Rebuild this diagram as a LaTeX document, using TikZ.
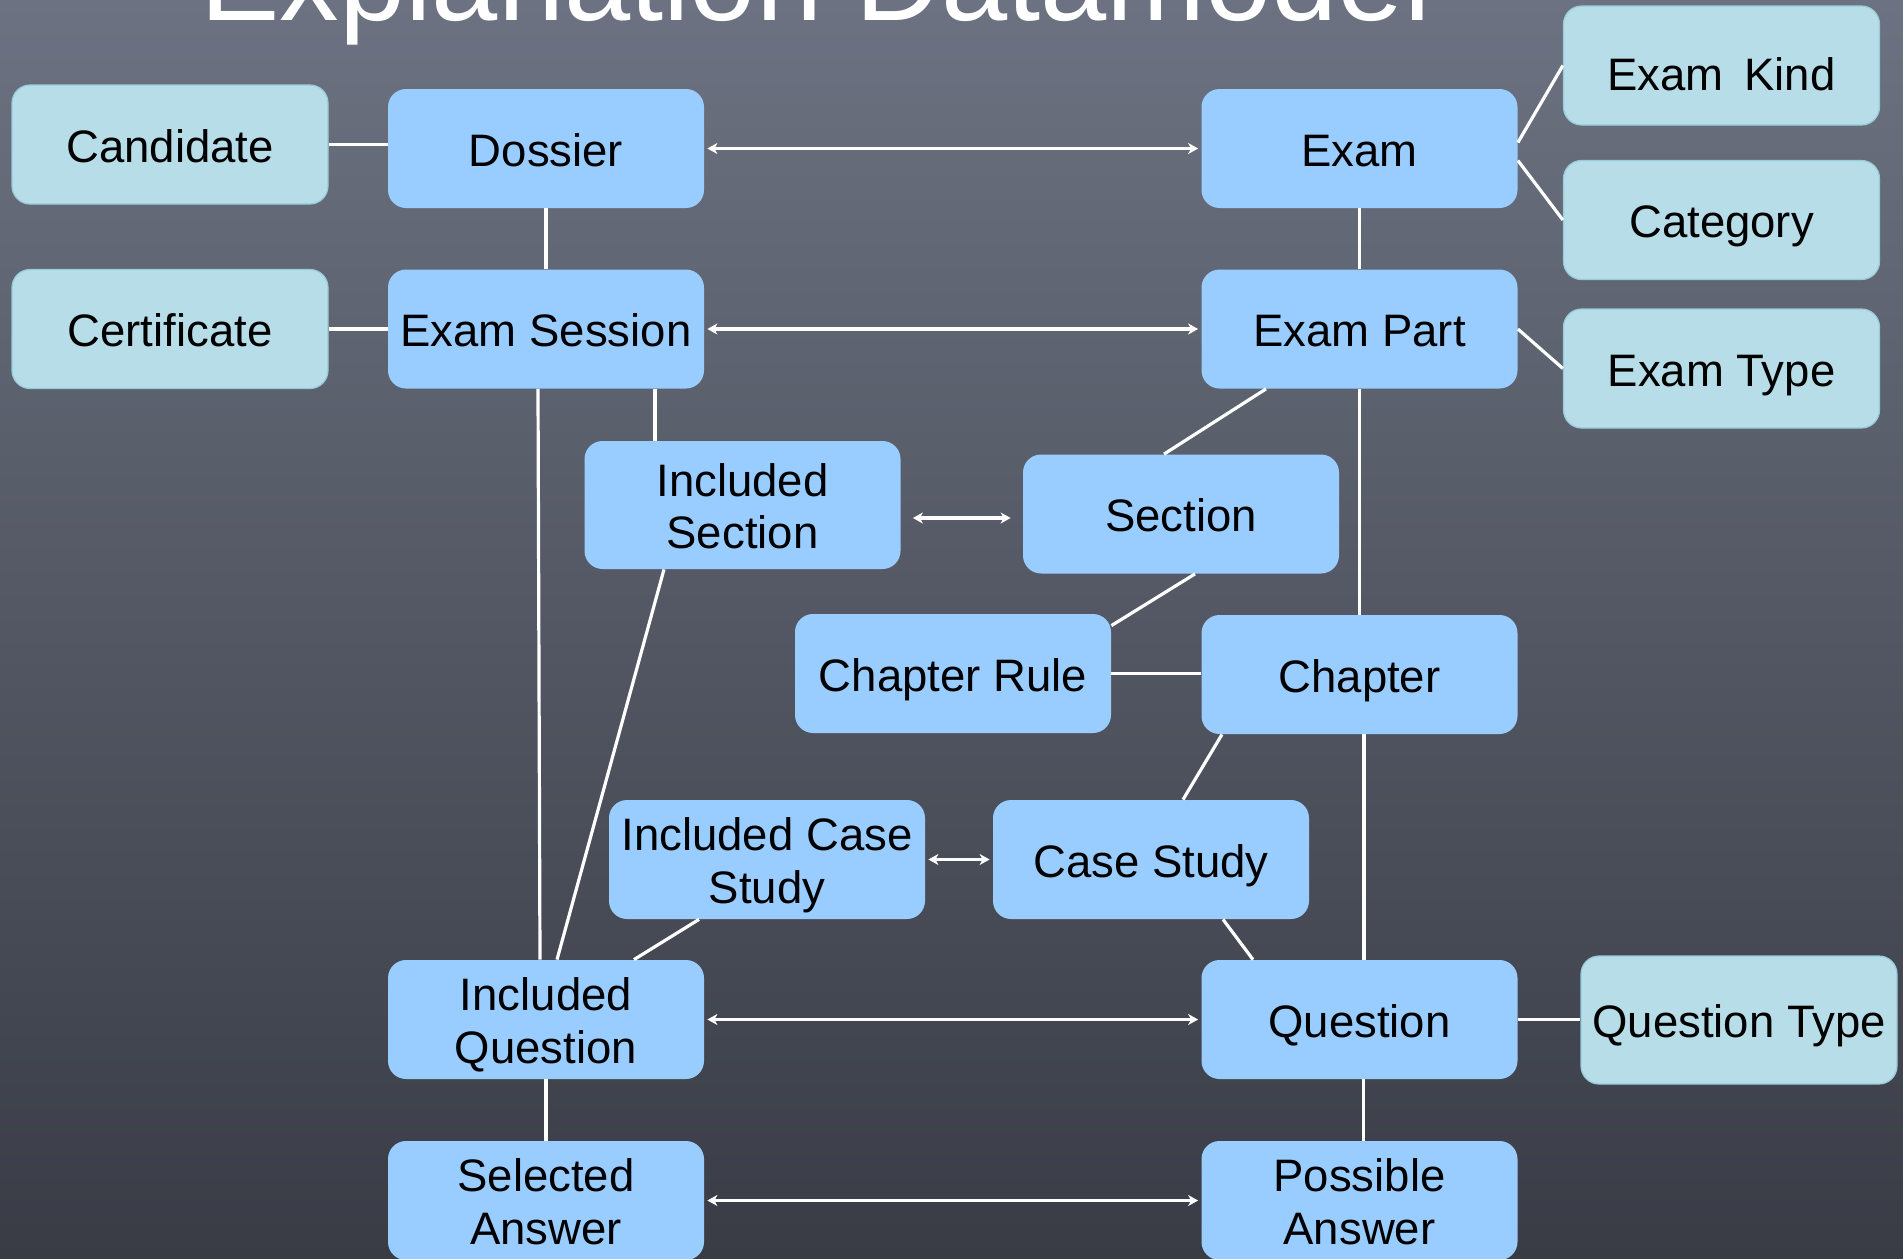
\documentclass[tikz,border=0pt]{standalone}
\usepackage{fontspec}
\setmainfont{Liberation Sans}
\usetikzlibrary{arrows.meta}
\definecolor{boardTop}{HTML}{6C7281}
\definecolor{boardMid}{HTML}{545966}
\definecolor{boardBottom}{HTML}{393C45}
\definecolor{entityBlue}{HTML}{99CCFF}
\definecolor{lookupCyan}{HTML}{B6DDE8}
\definecolor{lookupEdge}{HTML}{98CAD8}
\newcommand{\boxStrut}{\rule[-5pt]{0pt}{27.5pt}}
\tikzstyle{boxEntity} = [rectangle, rounded corners=9pt, minimum width=158pt, minimum height=59.5pt, inner sep=0pt, align=center, text=black, fill=entityBlue, font=\fontsize{22.75pt}{26.3pt}\selectfont, execute at begin node=\boxStrut, execute at end node=\boxStrut]
\tikzstyle{boxLookup} = [boxEntity, fill=lookupCyan, draw=lookupEdge, line width=0.6pt]
\tikzstyle{link} = [draw=white, line width=1.6pt]
\tikzstyle{arrow} = [link, {Stealth[length=5pt, width=5.5pt, inset=1.5pt]}-{Stealth[length=5pt, width=5.5pt, inset=1.5pt]}, shorten <=1.5pt, shorten >=1.5pt]

\begin{document}
\begin{tikzpicture}[x=0.5pt, y=-0.5pt]

\shade [top color=boardTop, middle color=boardMid, bottom color=boardBottom] (0,0) rectangle (1903,1259);
\useasboundingbox (0,0) rectangle (1903,1259);

\node (title) [anchor=base west, inner sep=0pt, text=white, font=\fontsize{59.5pt}{60pt}\selectfont] at (200,20) {Explanation Datamodel};

\node (candidate) [boxLookup] at (170,144.5) {Candidate};
\node (dossier) [boxEntity] at (546,148.5) {Dossier};
\node (exam) [boxEntity] at (1359.5,148.5) {Exam};
\node (examkind) [boxLookup] at (1721.5,65.5) {\raisebox{-3.5pt}{Exam\hspace{0.45em}Kind}};
\node (category) [boxLookup] at (1721.5,220) {Category};
\node (examtype) [boxLookup] at (1721.5,368.5) {Exam Type};

\node (certificate) [boxLookup] at (170,329) {Certificate};
\node (examsession) [boxEntity] at (546,329) {Exam Session};
\node (exampart) [boxEntity] at (1359.5,329) {Exam Part};

\node (incsection) [boxEntity, minimum height=64pt] at (742.5,505) {\boxStrut Included\\Section};
\node (section) [boxEntity] at (1181,514) {Section};

\node (chaprule) [boxEntity] at (953,673.5) {Chapter Rule};
\node (chapter) [boxEntity] at (1359.5,674.5) {Chapter};

\node (inccase) [boxEntity] at (767,859.5) {\boxStrut Included Case\\Study};
\node (casestudy) [boxEntity] at (1151,859.5) {Case Study};

\node (incquestion) [boxEntity] at (546,1019.5) {\boxStrut Included\\Question};
\node (question) [boxEntity] at (1359.5,1019.5) {Question};
\node (questiontype) [boxLookup, minimum height=64pt] at (1739,1020) {Question Type};

\node (selanswer) [boxEntity] at (546,1200.5) {\boxStrut Selected\\Answer};
\node (posanswer) [boxEntity] at (1359.5,1200.5) {\boxStrut Possible\\Answer};

\draw [link] (candidate.east) -- (candidate.east -| dossier.west);
\draw [arrow] (dossier.east) -- (exam.west);
\draw [link] (dossier.south) -- (examsession.north);
\draw [link] (exam.south) -- (exampart.north);
\draw [link] ([yshift=3pt]exam.east) -- (examkind.west);
\draw [link] ([yshift=-6pt]exam.east) -- (category.west);
\draw [link] (exampart.east) -- (examtype.west);

\draw [link] (certificate.east) -- (examsession.west);
\draw [arrow] (examsession.east) -- (exampart.west);
\draw [link] ([xshift=-4pt]examsession.south) -- ([xshift=-3pt]incquestion.north);
\draw [link] ([xshift=-43.75pt]incsection.north) -- ([xshift=-43.75pt]incsection.north |- examsession.south);
\draw [link] ([xshift=-46.75pt]exampart.south) -- ([xshift=-8.5pt]section.north);
\draw [link] (exampart.south) -- (chapter.north);

\draw [arrow, shorten <=6pt, shorten >=6pt] ([yshift=-2pt]section.west -| incsection.east) -- ([yshift=-2pt]section.west);
\draw [link] ([xshift=7pt]section.south) -- ([yshift=-6pt]chaprule.north east);
\draw [link] ([xshift=-39.25pt]incsection.south) -- ([xshift=5.5pt]incquestion.north);

\draw [link] (chaprule.east) -- (chaprule.east -| chapter.west);
\draw [link] ([xshift=-68.75pt]chapter.south) -- ([xshift=16pt]casestudy.north);
\draw [link] ([xshift=2.25pt]chapter.south) -- ([xshift=2.25pt]question.north);

\draw [arrow] (inccase.east) -- (casestudy.west);
\draw [link] ([xshift=-34pt]inccase.south) -- ([xshift=44pt]incquestion.north);
\draw [link] ([xshift=36pt]casestudy.south) -- ([xshift=-53.25pt]question.north);

\draw [arrow] (incquestion.east) -- (question.west);
\draw [link] (question.east) -- (question.east -| questiontype.west);
\draw [link] (incquestion.south) -- (selanswer.north);
\draw [link] ([xshift=2pt]question.south) -- ([xshift=2pt]posanswer.north);
\draw [arrow] (selanswer.east) -- (posanswer.west);

\end{tikzpicture}
\end{document}
